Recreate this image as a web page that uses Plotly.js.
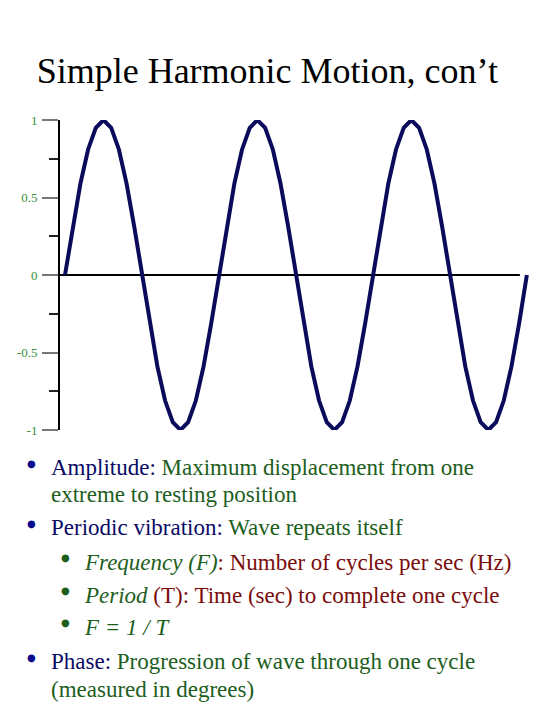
<!DOCTYPE html>
<html>
<head>
<meta charset="utf-8">
<script src="https://cdn.plot.ly/plotly-3.0.1.min.js"></script>
<style>html,body{margin:0;padding:0;background:#fff;}#chart{width:540px;height:720px;}</style>
</head>
<body>
<div id="chart"></div>
<script>
// Phase angle (degrees) sampled along three cycles
const phaseDeg = [0,18,36,54,72,90,108,126,144,162,180,198,216,234,252,270,288,306,324,342,
  360,378,396,414,432,450,468,486,504,522,540,558,576,594,612,630,648,666,684,702,
  720,738,756,774,792,810,828,846,864,882,900,918,936,954,972,990,1008,1026,1044,1062,1080];
// Displacement
const displacement = [0,0.31,0.59,0.81,0.95,1,0.95,0.81,0.59,0.31,0,-0.31,-0.59,-0.81,-0.95,-1,-0.95,-0.81,-0.59,-0.31,
  0,0.31,0.59,0.81,0.95,1,0.95,0.81,0.59,0.31,0,-0.31,-0.59,-0.81,-0.95,-1,-0.95,-0.81,-0.59,-0.31,
  0,0.31,0.59,0.81,0.95,1,0.95,0.81,0.59,0.31,0,-0.31,-0.59,-0.81,-0.95,-1,-0.95,-0.81,-0.59,-0.31,0];
const yTickVals = [-1,-0.5,0,0.5,1];
const yTickText = ['-1','-0.5','0','0.5','1'];
const titleText = 'Simple Harmonic Motion, con’t';

const NAVY = '#0a0a66', GREEN = '#1d5e1d', RED = '#7a0c0c', BLUE = '#0a0a8c';
const bulletLines = [
  {level:1, text:'<span style="color:'+NAVY+'">Amplitude:</span> Maximum displacement from one'},
  {level:0, text:'extreme to resting position'},
  {level:1, text:'<span style="color:'+NAVY+'">Periodic vibration:</span> Wave repeats itself'},
  {level:2, text:'<i>Frequency (F)</i><span style="color:'+RED+'">: Number of cycles per sec (Hz)</span>'},
  {level:2, text:'<i>Period</i><span style="color:'+RED+'"> (T): Time (sec) to complete one cycle</span>'},
  {level:2, text:'<i>F = 1 / T</i>'},
  {level:1, text:'<span style="color:'+NAVY+'">Phase:</span> Progression of wave through one cycle'},
  {level:0, text:'(measured in degrees)'}
];
const lineY = [468, 495, 528, 563, 596, 628, 662, 690];

// layout geometry (pixels)
const L = 60, T = 119.5, B = 290, R = 10.8;
const W = 540, H = 720;
const pw = W - L - R, ph = H - T - B;
const px2x = p => (p - L) / pw;
const py2y = p => (H - B - p) / ph;

const annotations = [];
bulletLines.forEach((ln, i) => {
  const y = py2y(lineY[i]);
  const textX = ln.level === 2 ? 82 : 49;
  annotations.push({xref:'paper', yref:'paper', x:px2x(textX), y:y, xanchor:'left', yanchor:'middle',
    showarrow:false, align:'left', text:ln.text,
    font:{family:'Liberation Serif, Times New Roman, serif', size:23, color:GREEN}});
  if (ln.level === 1) {
    annotations.push({xref:'paper', yref:'paper', x:px2x(31), y:py2y(lineY[i]-4), xanchor:'center', yanchor:'middle',
      showarrow:false, text:'●', font:{family:'DejaVu Sans, sans-serif', size:10, color:BLUE}});
  } else if (ln.level === 2) {
    annotations.push({xref:'paper', yref:'paper', x:px2x(66), y:py2y(lineY[i]-5), xanchor:'center', yanchor:'middle',
      showarrow:false, text:'●', font:{family:'DejaVu Sans, sans-serif', size:10, color:GREEN}});
  }
});

const trace = {
  x: phaseDeg, y: displacement, type:'scatter', mode:'lines',
  line:{color:'#0b0b5c', width:4}, hoverinfo:'skip', cliponaxis:false
};

const layout = {
  width:W, height:H,
  margin:{l:L, r:R, t:T, b:B, pad:0},
  paper_bgcolor:'#fff', plot_bgcolor:'#fff',
  showlegend:false,
  title:{text:titleText, xref:'container', yref:'container', x:0.495, y:1-70/720, xanchor:'center', yanchor:'middle',
    font:{family:'Liberation Serif, Times New Roman, serif', size:36, color:'#000'}},
  xaxis:{range:[-11.7, 1085], visible:false, fixedrange:true},
  yaxis:{range:[-1,1], tickvals:yTickVals, ticktext:yTickText, ticks:'outside', ticklen:16, tickwidth:2, tickcolor:'#777',
    showline:true, linecolor:'#000', linewidth:2, showgrid:false, zeroline:false,
    ticklabelstandoff:2,
    tickfont:{family:'Liberation Serif, serif', size:13, color:'#3a8f3a'},
    minor:{dtick:0.25, ticks:'outside', ticklen:9, tickwidth:2, tickcolor:'#222', showgrid:false},
    fixedrange:true},
  shapes:[{type:'line', xref:'x', yref:'y', x0:-11.7, x1:1063.6, y0:0, y1:0, line:{color:'#000', width:2}, layer:'below'}],
  annotations:annotations
};

Plotly.newPlot('chart', [trace], layout, {displayModeBar:false, staticPlot:true});
</script>
</body>
</html>
